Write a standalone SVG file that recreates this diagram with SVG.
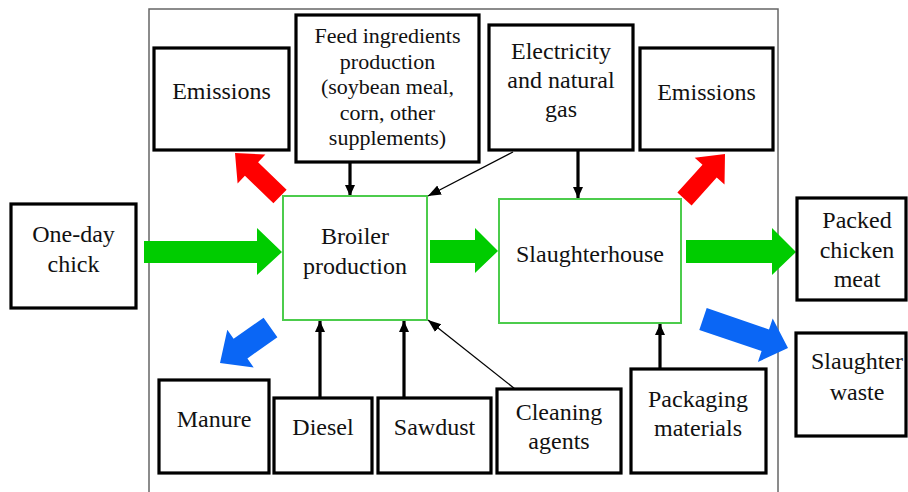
<svg xmlns="http://www.w3.org/2000/svg" width="908" height="492" viewBox="0 0 908 492">
<defs>
<style>
.box{fill:#fff;stroke:#000;stroke-width:3.2}
.gbox{fill:#fff;stroke:#4ccc4c;stroke-width:2}
.t{font-family:"Liberation Serif","Times New Roman",serif;font-size:24px;fill:#111;text-anchor:middle}
.ts{font-size:22px}
.thick{stroke:#000;stroke-width:3.2;fill:none}
.thin{stroke:#000;stroke-width:1.3;fill:none}
.green{fill:#00cc00}
.red{fill:#ff0000}
.blue{fill:#0a66f5}
</style>
<marker id="ah" markerUnits="userSpaceOnUse" markerWidth="12" markerHeight="12" viewBox="0 0 12 12" refX="11" refY="6" orient="auto">
<path d="M0,1 L11,6 L0,11 Z" fill="#000"/>
</marker>
<marker id="ah2" markerUnits="userSpaceOnUse" markerWidth="14" markerHeight="14" viewBox="0 0 14 14" refX="13" refY="7" orient="auto">
<path d="M0,2 L13,7 L0,12 Z" fill="#000"/>
</marker>
</defs>
<rect width="908" height="492" fill="#fff"/>
<rect x="149" y="9" width="629" height="495" fill="none" stroke="#666" stroke-width="1.5"/>

<g id="connectors">
<line class="thick" x1="350" y1="163" x2="350" y2="196" marker-end="url(#ah)"/>
<line class="thick" x1="578" y1="151" x2="578" y2="198" marker-end="url(#ah)"/>
<line class="thick" x1="320" y1="397" x2="320" y2="321" marker-end="url(#ah)"/>
<line class="thick" x1="404" y1="397" x2="404" y2="321" marker-end="url(#ah)"/>
<line class="thick" x1="660" y1="368" x2="660" y2="324" marker-end="url(#ah)"/>
<line class="thin" x1="513" y1="152" x2="428" y2="196" marker-end="url(#ah2)"/>
<line class="thin" x1="515" y1="389" x2="428" y2="320" marker-end="url(#ah2)"/>
<polygon class="green" points="144,241 257,241 257,228 282,252 257,275 257,263 144,263"/>
<polygon class="green" points="430,240 475,240 475,228 498,251 475,273 475,263 430,263"/>
<polygon class="green" points="686,240 772,240 772,228 796,252 772,275 772,263 686,263"/>
<polygon class="red" points="286.6,189.7 258.1,162.2 265.4,154.6 235,153 237.6,183.4 244.9,175.8 273.4,203.3"/>
<polygon class="red" points="691.6,205.4 716.7,177.5 724.5,184.5 725,154 694.7,157.7 702.5,164.7 677.4,192.6"/>
<polygon class="blue" points="263.6,317.7 233.6,338.8 227.3,329.8 220,363 253.7,367.4 247.4,358.4 277.4,337.3"/>
<polygon class="blue" points="706.7,308.1 769,329.4 772.7,318.5 788,348 757.9,362 761.6,351.1 699.3,329.9"/>
</g>

<g id="emissions-left">
<rect class="box" x="154" y="48" width="135" height="102"/>
<text class="t" x="221.5" y="99">Emissions</text>
</g>
<g id="feed">
<rect class="box" x="296" y="15" width="183" height="147"/>
<text class="t ts" x="387.5" y="43">Feed ingredients</text>
<text class="t ts" x="387.5" y="68.5">production</text>
<text class="t ts" x="387.5" y="94">(soybean meal,</text>
<text class="t ts" x="387.5" y="119.5">corn, other</text>
<text class="t ts" x="387.5" y="145">supplements)</text>
</g>
<g id="electricity">
<rect class="box" x="489" y="25" width="144" height="125"/>
<text class="t" x="561" y="59">Electricity</text>
<text class="t" x="561" y="88">and natural</text>
<text class="t" x="561" y="117">gas</text>
</g>
<g id="emissions-right">
<rect class="box" x="640" y="48" width="133" height="102"/>
<text class="t" x="706.5" y="100">Emissions</text>
</g>
<g id="one-day-chick">
<rect class="box" x="11" y="204" width="125" height="104"/>
<text class="t" x="73.5" y="242">One-day</text>
<text class="t" x="73.5" y="272">chick</text>
</g>
<g id="broiler">
<rect class="gbox" x="283" y="196" width="144" height="124"/>
<text class="t" x="355" y="244">Broiler</text>
<text class="t" x="355" y="274">production</text>
</g>
<g id="slaughterhouse">
<rect class="gbox" x="499" y="199" width="182" height="124"/>
<text class="t" x="590" y="262">Slaughterhouse</text>
</g>
<g id="packed-meat">
<rect class="box" x="797" y="198" width="109" height="102"/>
<text class="t" x="857" y="228">Packed</text>
<text class="t" x="857" y="258">chicken</text>
<text class="t" x="857" y="287">meat</text>
</g>
<g id="slaughter-waste">
<rect class="box" x="796" y="333" width="110" height="103"/>
<text class="t" x="857" y="369">Slaughter</text>
<text class="t" x="857" y="400">waste</text>
</g>
<g id="manure">
<rect class="box" x="159" y="380" width="110" height="93"/>
<text class="t" x="214" y="427">Manure</text>
</g>
<g id="diesel">
<rect class="box" x="274" y="398" width="98" height="75"/>
<text class="t" x="323" y="435">Diesel</text>
</g>
<g id="sawdust">
<rect class="box" x="378" y="398" width="113" height="75"/>
<text class="t" x="434.5" y="435">Sawdust</text>
</g>
<g id="cleaning">
<rect class="box" x="497" y="389" width="124" height="84"/>
<text class="t" x="559" y="420">Cleaning</text>
<text class="t" x="559" y="449">agents</text>
</g>
<g id="packaging">
<rect class="box" x="631" y="369" width="135" height="104"/>
<text class="t" x="698" y="407">Packaging</text>
<text class="t" x="698" y="436">materials</text>
</g>
</svg>
